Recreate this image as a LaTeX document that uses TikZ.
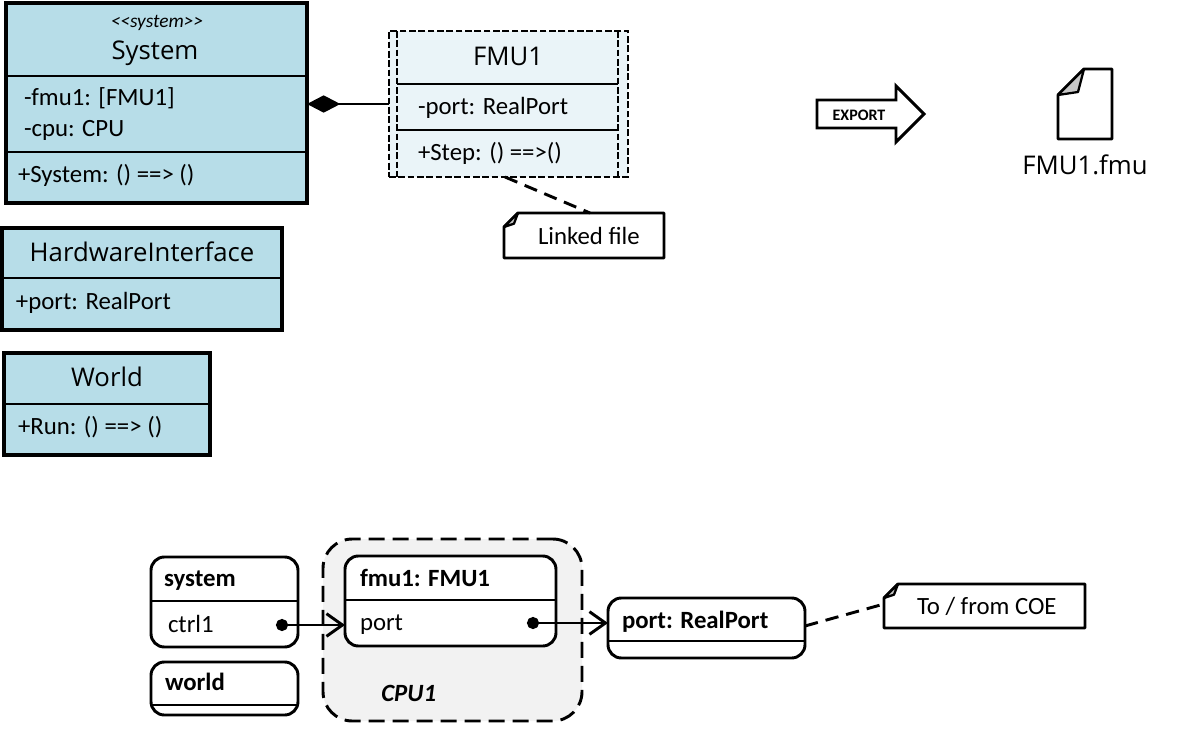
\documentclass[tikz,border=0pt]{standalone}
\usepackage{fontspec}
\setmainfont{Carlito}
\newfontfamily\titlefont{Open Sans}
\usetikzlibrary{arrows.meta}
\definecolor{classblue}{HTML}{B7DDE8}
\definecolor{fmublue}{HTML}{EAF4F8}
\definecolor{cpugrey}{HTML}{F2F2F2}
\definecolor{foldgrey}{HTML}{C8C8C8}
\tikzset{
  px/.style={x=0.75pt,y=-0.75pt},
  divider/.style={line width=1.7pt,draw=black},
  line/.style={line width=2.2pt,draw=black},
  classbox/.style={fill=classblue,line width=2.3pt,draw=black},
  fmubox/.style={fill=fmublue,draw=black,line width=2.1pt,dash pattern=on 5pt off 2pt},
  inst/.style={fill=white,draw=black,line width=2.2pt,rounded corners=10pt},
  cpubox/.style={fill=cpugrey,draw=black,line width=2.2pt,dash pattern=on 12pt off 6pt,rounded corners=22pt},
  txt/.style={inner sep=0pt,outer sep=0pt,anchor=base west,font=\fontsize{18.6pt}{20pt}\selectfont},
  btxt/.style={txt,font=\fontsize{18.6pt}{20pt}\selectfont\bfseries},
  title/.style={inner sep=0pt,outer sep=0pt,anchor=base,font=\titlefont\fontsize{19.3pt}{22pt}\selectfont},
  notedash/.style={line width=2.2pt,dash pattern=on 10pt off 6pt},
  notebody/.style={fill=white,draw=black,line width=2.2pt,line join=round},
  fold/.style={fill=foldgrey,draw=black,line width=1.7pt,line join=round},
}
% name, x1, y1, x2, y2, style
\newcommand{\pxbox}[6]{%
  \pgfmathsetmacro{\pxw}{(#4-#2)*0.75}%
  \pgfmathsetmacro{\pxh}{(#5-#3)*0.75}%
  \node[#6,inner sep=0pt,outer sep=0pt,minimum width=\pxw pt,minimum height=\pxh pt,anchor=north west] (#1) at (#2,#3) {};}
% note: name, x1, y1, x2, y2
\newcommand{\pxnote}[5]{%
  \pgfmathsetmacro{\pxw}{(#4-#2)*0.75}%
  \pgfmathsetmacro{\pxh}{(#5-#3)*0.75}%
  \node[inner sep=0pt,outer sep=0pt,minimum width=\pxw pt,minimum height=\pxh pt,anchor=north west] (#1) at (#2,#3) {};
  \draw[notebody] ([xshift=10.5pt]#1.north west) -- (#1.north east) -- (#1.south east) -- (#1.south west) -- ([yshift=-10.5pt]#1.north west) -- cycle;
  \draw[fold] ([xshift=10.5pt]#1.north west) -- ([yshift=-10.5pt]#1.north west) -- ([xshift=7.5pt,yshift=-8pt]#1.north west) -- cycle;}
\begin{document}
\begin{tikzpicture}[px]
\useasboundingbox (0,0) rectangle (1199,735);

% System class
\pxbox{sys}{6}{3}{307}{203}{classbox}
\draw[divider] (6,76) -- (307,76);
\draw[divider] (6,152) -- (307,152);
\node[inner sep=0pt,anchor=base,font=\fontsize{14.5pt}{16pt}\selectfont\itshape] (sysster) at (157,28) {{<}{<}system{>}{>}};
\node[title] (systitle) at (155,60) {System};
\node[txt] (sysa) at (24,105) {-fmu1: [FMU1]};
\node[txt] (sysb) at (24,136) {-cpu: CPU};
\node[txt] (sysc) at (18,182) {+System: () ==> ()};

% HardwareInterface class
\pxbox{hw}{2}{228}{282}{330}{classbox}
\draw[divider] (2,278) -- (282,278);
\node[title] (hwtitle) at (142,261) {HardwareInterface};
\node[txt] (hwa) at (16,309) {+port: RealPort};

% World class
\pxbox{wo}{4}{353}{210}{455}{classbox}
\draw[divider] (4,404) -- (210,404);
\node[title] (wotitle) at (107,386) {World};
\node[txt] (woa) at (18,434) {+Run: () ==> ()};

% FMU1 class
\pxbox{fmu}{389}{31}{628}{177}{fmubox}
\draw[fmubox,fill=none] (397,31) -- (397,177);
\draw[fmubox,fill=none] (618,31) -- (618,177);
\draw[divider] (397,84) -- (618,84);
\draw[divider] (397,130) -- (618,130);
\node[title] (fmutitle) at (508,66) {FMU1};
\node[txt] (fmua) at (418,114) {-port: RealPort};
\node[txt] (fmub) at (418,160) {+Step: () ==>()};

% composition
\draw[line,{Diamond[length=25pt,width=13pt]}-] (sys.east |- 0,104) -- (fmu.west |- 0,104);

% Linked file note
\pxnote{nlink}{504}{213}{664}{258}
\node[txt] (nlinkt) at (538,244) {Linked file};
\coordinate (fmuanchor) at (505,177);
\coordinate (nlinkanchor) at (590,213);
\draw[notedash] (fmuanchor) -- (nlinkanchor);

% Export arrow
\draw[notebody,miter limit=10,line join=miter] (817,100) -- (896,100) -- (896,86) -- (924,114) -- (896,142) -- (896,128) -- (817,128) -- cycle;
\node[inner sep=0pt,anchor=base,font=\fontsize{12pt}{13pt}\selectfont\bfseries] (ext) at (859,120) {EXPORT};

% File icon
\draw[notebody] (1084,69) -- (1112,69) -- (1112,139) -- (1058,139) -- (1058,95) -- cycle;
\draw[fold] (1084,69) -- (1058,95) -- (1078,92) -- cycle;
\node[title] (fmufile) at (1085,174) {FMU1.fmu};

% CPU and instances
\pxbox{cpu}{323}{539}{582}{721}{cpubox}
\node[inner sep=0pt,anchor=base west,font=\fontsize{18.6pt}{20pt}\selectfont\bfseries\itshape] (cput) at (381,701) {CPU1};

\pxbox{isys}{151}{557}{298}{647}{inst}
\draw[divider] (151,601) -- (298,601);
\node[btxt] (isyst) at (164,586) {system};
\node[txt] (ictrl) at (168,632) {ctrl1};

\pxbox{iwo}{151}{662}{298}{715}{inst}
\draw[divider] (151,705) -- (298,705);
\node[btxt] (iwot) at (165,690) {world};

\pxbox{ifmu}{345}{556}{556}{646}{inst}
\draw[divider] (345,600) -- (556,600);
\node[btxt] (ifmut) at (360,586) {fmu1: FMU1};
\node[txt] (iport) at (360,630) {port};

\pxbox{ireal}{608}{598}{805}{658}{inst}
\draw[divider] (608,641) -- (805,641);
\node[btxt] (irealt) at (622,628) {port: RealPort};

% links
\coordinate (ctrldot) at (276,625);
\coordinate (portdot) at (527,623);
\draw[line,{Circle[length=9pt]}-{Straight Barb[length=12pt,width=17pt,line width=2.2pt]}] (ctrldot) -- (ifmu.west |- ctrldot);
\draw[line,{Circle[length=9pt]}-{Straight Barb[length=12pt,width=17pt,line width=2.2pt]}] (portdot) -- (ireal.west |- portdot);

% To/from COE note
\pxnote{ncoe}{884}{584}{1085}{628}
\node[txt] (ncoet) at (917,614) {To / from COE};
\coordinate (realanchor) at (805,626);
\coordinate (ncoeanchor) at (884,604);
\draw[notedash] (realanchor) -- (ncoeanchor);
\end{tikzpicture}
\end{document}
